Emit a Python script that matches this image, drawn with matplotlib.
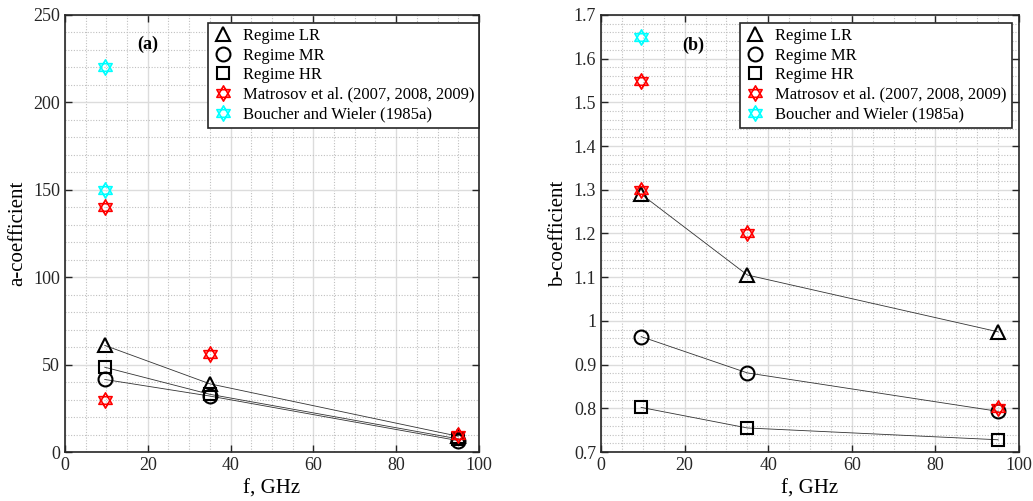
import numpy as np
import matplotlib
matplotlib.use('Agg')
from matplotlib import pyplot as plt
from matplotlib.path import Path
from matplotlib.ticker import MultipleLocator, FuncFormatter

plt.rcParams['font.family'] = ['Liberation Serif', 'DejaVu Serif']
plt.rcParams['mathtext.fontset'] = 'stix'

# frequencies, GHz
freq = [9.6, 35, 95]

# a-coefficient per regime
a_lr = [61, 39, 9]
a_mr = [41.5, 32, 6.5]
a_hr = [48.5, 33, 7.5]
a_matrosov_f = [9.6, 9.6, 35, 95]
a_matrosov = [140, 30, 56, 10]
a_boucher_f = [9.6, 9.6]
a_boucher = [220, 150]

# b-coefficient per regime
b_lr = [1.29, 1.105, 0.975]
b_mr = [0.964, 0.881, 0.793]
b_hr = [0.802, 0.755, 0.728]
b_matrosov_f = [9.6, 9.6, 35, 95]
b_matrosov = [1.55, 1.30, 1.20, 0.80]
b_boucher_f = [9.6]
b_boucher = [1.65]

# hexagram marker: two overlapping triangles
ang = np.deg2rad([90, 210, 330, 90])
up = np.column_stack([np.cos(ang), np.sin(ang)])
down = up * [1, -1]
codes = [Path.MOVETO, Path.LINETO, Path.LINETO, Path.CLOSEPOLY]
hexagram = Path(np.vstack([up, down]), codes + codes)


def style_axes(ax, ylim, ymajor, yminor, ylabel):
    ax.set_xlim(0, 100)
    ax.set_ylim(*ylim)
    ax.xaxis.set_major_locator(MultipleLocator(20))
    ax.xaxis.set_minor_locator(MultipleLocator(5))
    ax.yaxis.set_major_locator(MultipleLocator(ymajor))
    ax.yaxis.set_minor_locator(MultipleLocator(yminor))
    ax.yaxis.set_major_formatter(FuncFormatter(lambda v, p: '%g' % round(v, 6)))
    ax.grid(which='major', color='#dcdcdc', lw=1.0, ls='-')
    ax.grid(which='minor', color='#c0c0c0', lw=0.8, ls=(0, (1, 1.5)))
    ax.set_axisbelow(True)
    ax.tick_params(which='major', direction='in', top=True, right=True,
                   length=5, width=1, labelsize=13, colors='#262626')
    ax.tick_params(which='minor', length=0)
    for s in ax.spines.values():
        s.set_color('#262626')
        s.set_linewidth(1.2)
    ax.set_xlabel('f, GHz', fontsize=15)
    ax.set_ylabel(ylabel, fontsize=15)


def draw(ax, lr, mr, hr, mf, mv, bf, bv):
    mk = dict(color='k', mfc='none', mew=1.5, ms=10)
    ax.plot(freq, lr, color='#333333', lw=0.6)
    ax.plot(freq, mr, color='#333333', lw=0.6)
    ax.plot(freq, hr, color='#333333', lw=0.6)
    ax.plot(freq, lr, ls='none', marker='^', label='Regime LR', **mk)
    ax.plot(freq, mr, ls='none', marker='o', label='Regime MR', **mk)
    ax.plot(freq, hr, ls='none', marker='s', label='Regime HR', **dict(mk, ms=8))
    ax.plot(mf, mv, ls='none', marker=hexagram, color='red', mfc='none',
            mew=1.2, ms=11, label='Matrosov et al. (2007, 2008, 2009)')
    ax.plot(bf, bv, ls='none', marker=hexagram, color='cyan', mfc='none',
            mew=1.2, ms=11, label='Boucher and Wieler (1985a)')


fig = plt.figure(figsize=(10.33, 5.01), dpi=100)
ax1 = fig.add_axes([0.0629, 0.0978, 0.4008, 0.8723])
ax2 = fig.add_axes([0.5818, 0.0978, 0.4047, 0.8723])

style_axes(ax1, (0, 250), 50, 10, 'a-coefficient')
draw(ax1, a_lr, a_mr, a_hr, a_matrosov_f, a_matrosov, a_boucher_f, a_boucher)
ax1.text(20, 233, '(a)', fontsize=13, fontweight='bold', ha='center', va='center')

style_axes(ax2, (0.7, 1.7), 0.1, 0.02, 'b-coefficient')
draw(ax2, b_lr, b_mr, b_hr, b_matrosov_f, b_matrosov, b_boucher_f, b_boucher)
ax2.text(22, 1.63, '(b)', fontsize=13, fontweight='bold', ha='center', va='center')

for ax, anchor in [(ax1, (1.0, 0.982)), (ax2, (0.983, 0.982))]:
    leg = ax.legend(loc='upper right', bbox_to_anchor=anchor, fontsize=12,
                    frameon=True, fancybox=False, framealpha=1,
                    borderpad=0.3, labelspacing=0.22, handlelength=1.2,
                    handletextpad=0.6, borderaxespad=0.0)
    leg.get_frame().set_edgecolor('#262626')
    leg.get_frame().set_linewidth(1.2)

fig.savefig('out.png', dpi=100)
